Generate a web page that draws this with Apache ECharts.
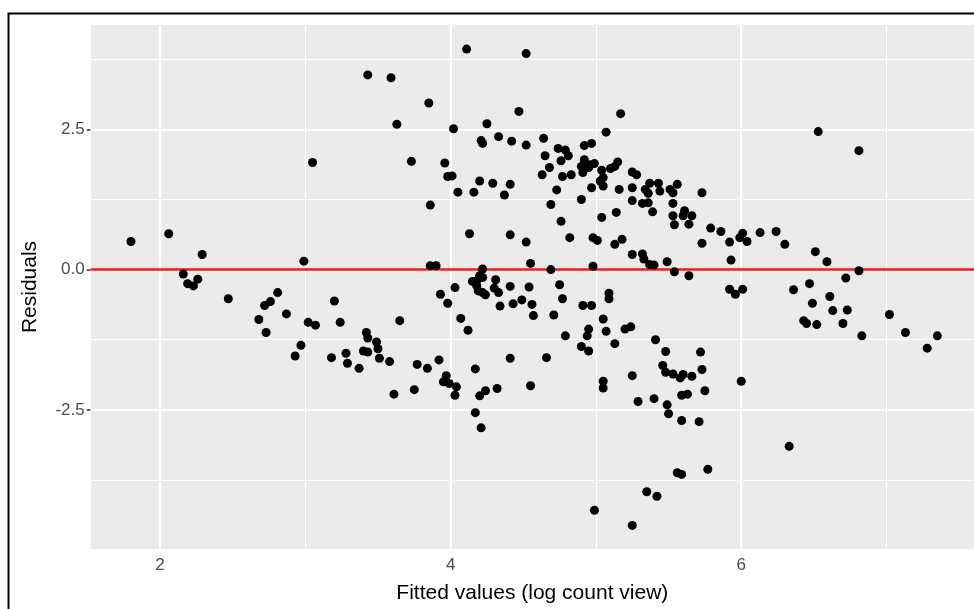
<!DOCTYPE html>
<html>
<head>
<meta charset="utf-8">
<script src="https://cdn.jsdelivr.net/npm/echarts@6/dist/echarts.min.js"></script>
<style>
  html, body { margin: 0; padding: 0; background: #fff; }
  #main { width: 974px; height: 609px; }
</style>
</head>
<body>
<div id="main"></div>
<script>
var chartDom = document.getElementById('main');
var myChart = echarts.init(chartDom);
var option;

// fitted values (x) and residuals (y)
var fitted = [
  1.80, 2.06, 2.29, 2.16, 2.19, 2.23, 2.26, 2.47, 2.68, 2.72, 2.76, 2.73, 2.81, 2.87, 2.93, 2.97,
  2.99, 3.02, 3.07, 3.18, 3.20, 3.24, 3.28, 3.29, 3.37, 3.42, 3.43, 3.40, 3.43, 3.49, 3.50, 3.51,
  3.05, 3.43,
  3.59, 3.63, 3.85, 3.73, 3.86, 4.11, 4.52, 4.02, 4.25, 4.47, 4.21, 4.22, 4.33, 4.42, 4.52, 3.96,
  3.98, 4.01, 4.05, 4.16, 4.20, 4.29, 4.37, 4.41, 4.13, 4.41, 4.52, 3.86, 3.90, 4.55, 4.22, 4.69,
  4.98, 4.64, 4.65, 4.74, 4.79, 4.81, 4.76, 4.68, 4.63, 4.77, 4.83, 4.73, 4.69, 4.76, 4.82, 4.92,
  4.97, 4.92, 4.90, 4.95, 4.91, 4.96, 4.99, 5.07, 5.17, 5.04, 5.05, 5.03, 5.05, 4.97, 4.90, 5.10,
  5.13, 5.15, 5.16, 5.04, 5.14, 4.98, 5.01, 5.13, 5.18, 5.25, 5.32, 5.33, 5.37, 5.40, 5.49, 5.25,
  5.28, 5.25, 5.25, 5.37, 5.43, 5.44, 5.34, 5.36, 5.32, 5.36, 5.39,
  3.93, 4.03, 3.98, 4.15, 4.18, 4.20, 4.22, 4.18, 4.19, 4.24, 4.22, 4.31, 4.30, 4.33, 4.34, 4.41,
  4.43, 4.49, 4.54, 4.56, 4.57, 4.75, 4.77, 4.71, 4.91, 4.97, 5.09, 5.09, 5.05, 3.65, 4.07,
  4.12, 4.79, 5.07, 4.95, 4.94, 4.90, 4.95, 5.13, 5.20, 5.24, 5.41, 5.48, 5.46, 5.48, 5.25, 5.05,
  5.05, 5.29, 5.40, 5.49, 5.50, 5.35, 5.42, 4.99, 5.25, 3.58, 3.61, 3.75, 3.77, 3.84, 3.92, 3.97,
  3.95, 3.99, 4.04, 4.03, 4.17, 4.20, 4.24, 4.32, 4.17, 4.21, 4.41, 4.66, 4.55,
  6.53, 6.81, 5.51, 5.53, 5.56, 5.73, 5.53, 5.53, 5.61, 5.60, 5.66, 5.64, 5.54, 5.73, 5.79, 5.86,
  5.92, 5.93, 5.99, 6.01, 6.04, 6.13, 6.24, 6.30, 6.51, 6.59, 6.81, 5.54, 5.64, 6.72, 5.92, 5.96,
  6.01, 6.36, 6.47, 6.61, 6.49, 6.63, 6.73, 6.43, 6.45, 6.52, 6.70, 6.83, 7.02, 7.13, 7.28, 7.35,
  5.53, 5.58, 5.60, 5.66, 5.72, 5.73, 5.75, 5.59, 5.63, 5.59, 5.71, 6.00, 6.33, 5.56, 5.59, 5.77
];
var residuals = [
  0.50, 0.64, 0.27, -0.08, -0.25, -0.29, -0.17, -0.52, -0.89, -0.64, -0.57, -1.12, -0.41, -0.79, -1.54, -1.35,
  0.15, -0.94, -0.99, -1.57, -0.56, -0.94, -1.49, -1.67, -1.76, -1.12, -1.22, -1.45, -1.47, -1.29, -1.41, -1.58,
  1.91, 3.47,
  3.42, 2.59, 2.97, 1.93, 1.15, 3.93, 3.85, 2.51, 2.60, 2.82, 2.30, 2.25, 2.37, 2.29, 2.22, 1.90,
  1.66, 1.67, 1.38, 1.38, 1.58, 1.54, 1.33, 1.52, 0.64, 0.62, 0.49, 0.07, 0.07, 0.11, 0.01, 0.00,
  0.06, 2.34, 2.03, 2.16, 2.13, 2.03, 1.94, 1.82, 1.69, 1.66, 1.69, 1.42, 1.16, 0.86, 0.57, 2.21,
  2.25, 1.96, 1.84, 1.82, 1.73, 1.87, 1.89, 2.45, 2.78, 1.77, 1.64, 1.58, 1.49, 1.46, 1.25, 1.80,
  1.84, 1.92, 1.43, 0.93, 1.02, 0.57, 0.52, 0.45, 0.54, 0.27, 0.28, 0.19, 0.09, 0.08, 0.14, 1.74,
  1.69, 1.46, 1.23, 1.54, 1.54, 1.40, 1.43, 1.36, 1.18, 1.19, 1.03,
  -0.44, -0.32, -0.60, -0.21, -0.20, -0.11, -0.14, -0.29, -0.38, -0.45, -0.41, -0.18, -0.33, -0.41, -0.65, -0.30,
  -0.61, -0.54, -0.31, -0.62, -0.82, -0.27, -0.52, -0.81, -0.64, -0.64, -0.42, -0.52, -0.88, -0.91, -0.87,
  -1.08, -1.18, -1.10, -1.06, -1.18, -1.37, -1.45, -1.32, -1.06, -1.02, -1.25, -1.46, -1.71, -1.83, -1.89, -1.99,
  -2.11, -2.35, -2.30, -2.41, -2.57, -3.96, -4.04, -4.29, -4.56, -1.64, -2.22, -2.14, -1.69, -1.76, -1.61, -1.89,
  -2.00, -2.03, -2.09, -2.24, -1.77, -2.25, -2.16, -2.12, -2.55, -2.82, -1.58, -1.57, -2.07,
  2.46, 2.12, 1.43, 1.37, 1.52, 1.37, 1.18, 0.96, 1.05, 0.96, 0.96, 0.81, 0.80, 0.47, 0.74, 0.68,
  0.49, 0.17, 0.57, 0.65, 0.50, 0.66, 0.68, 0.45, 0.32, 0.14, -0.02, -0.04, -0.11, -0.15, -0.35, -0.44,
  -0.35, -0.36, -0.25, -0.48, -0.60, -0.73, -0.72, -0.91, -0.96, -0.98, -0.96, -1.18, -0.80, -1.12, -1.40, -1.18,
  -1.86, -1.93, -1.87, -1.90, -1.47, -1.78, -2.16, -2.24, -2.22, -2.69, -2.71, -1.99, -3.15, -3.62, -3.65, -3.56
];

// axis breaks and grid lines
var xTicks = [2, 4, 6];
var xMinor = [3, 5, 7];
var yTicks = [-2.5, 0, 2.5];
var yMinor = [-3.75, -1.25, 1.25, 3.75];
var hLine = 0;

var points = fitted.map(function (x, i) { return [x, residuals[i]]; });

function gridLines(vals, key, width) {
  return vals.map(function (v) {
    var o = { lineStyle: { color: '#ffffff', width: width, type: 'solid' } };
    o[key] = v;
    return o;
  });
}

var gridData = []
  .concat(gridLines(xMinor, 'xAxis', 1))
  .concat(gridLines(yMinor, 'yAxis', 1))
  .concat(gridLines(xTicks, 'xAxis', 2))
  .concat(gridLines(yTicks, 'yAxis', 2));

option = {
  animation: false,
  textStyle: { fontFamily: 'Liberation Sans, Arial, sans-serif' },
  graphic: [{
    type: 'rect',
    silent: true,
    z: -10,
    shape: { x: 8.5, y: 13.5, width: 1200, height: 1200 },
    style: { fill: 'none', stroke: '#000', lineWidth: 2 }
  }],
  grid: {
    left: 90.7, top: 25, right: 0, bottom: 58,
    show: true, backgroundColor: '#ebebeb', borderWidth: 0
  },
  xAxis: {
    type: 'value',
    min: 1.523, max: 7.602,
    name: 'Fitted values (log count view)',
    nameLocation: 'middle',
    nameGap: 34,
    nameTextStyle: { color: '#000', fontSize: 21, fontFamily: 'Liberation Sans' },
    axisLine: { show: false },
    splitLine: { show: false },
    axisTick: { show: true, customValues: xTicks, length: 4, lineStyle: { color: '#333', width: 1.5 } },
    axisLabel: { customValues: xTicks, margin: 8, color: '#4d4d4d', fontSize: 17, fontFamily: 'Liberation Sans' }
  },
  yAxis: {
    type: 'value',
    min: -4.98, max: 4.36,
    name: 'Residuals',
    nameLocation: 'middle',
    nameGap: 50,
    nameTextStyle: { color: '#000', fontSize: 21, fontFamily: 'Liberation Sans' },
    axisLine: { show: false },
    splitLine: { show: false },
    axisTick: { show: true, customValues: yTicks, length: 4, lineStyle: { color: '#333', width: 1.5 } },
    axisLabel: {
      customValues: yTicks, margin: 6, color: '#4d4d4d', fontSize: 17, fontFamily: 'Liberation Sans',
      formatter: function (v) { return v.toFixed(1); }
    }
  },
  series: [
    {
      type: 'scatter',
      data: [],
      z: 1,
      silent: true,
      markLine: { z: 1, silent: true, symbol: 'none', label: { show: false }, animation: false, data: gridData }
    },
    {
      type: 'scatter',
      data: [],
      z: 2,
      silent: true,
      markLine: {
        z: 2, silent: true, symbol: 'none', label: { show: false }, animation: false,
        data: [{ yAxis: hLine, lineStyle: { color: '#ee1c1c', width: 2.5, type: 'solid' } }]
      }
    },
    {
      type: 'scatter',
      data: points,
      z: 3,
      symbolSize: 9,
      itemStyle: { color: '#000', opacity: 1 }
    }
  ]
};

option && myChart.setOption(option);
</script>
</body>
</html>
